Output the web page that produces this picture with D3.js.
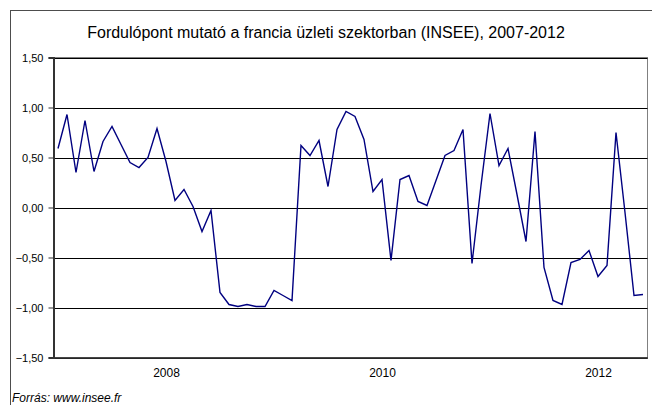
<!DOCTYPE html>
<html>
<head>
<meta charset="utf-8">
<script src="https://cdn.jsdelivr.net/npm/d3@7"></script>
<style>
  html, body { margin: 0; padding: 0; background: #fff; }
  svg { display: block; font-family: "Liberation Sans", Arial, sans-serif; }
</style>
</head>
<body>
<svg id="chart" width="652" height="405"></svg>
<script>
const title = "Fordulópont mutató a francia üzleti szektorban (INSEE), 2007-2012";
const source = "Forrás: www.insee.fr";

// Monthly categories, Jan 2007 – Jun 2012
const months = d3.timeMonth.range(new Date(2007, 0, 1), new Date(2012, 6, 1)).map(d3.timeFormat("%Y-%m"));

const values = [
  0.59, 0.93, 0.35, 0.87, 0.36, 0.66, 0.81, 0.63, 0.45, 0.40, 0.50, 0.79,
  0.46, 0.07, 0.18, 0.01, -0.24, -0.03, -0.85, -0.97, -0.99, -0.97, -0.99, -0.99,
  -0.83, -0.88, -0.93, 0.62, 0.52, 0.67, 0.21, 0.78, 0.96, 0.91, 0.68, 0.16,
  0.28, -0.53, 0.28, 0.32, 0.06, 0.02, 0.27, 0.52, 0.57, 0.78, -0.56, 0.22,
  0.94, 0.42, 0.59, 0.13, -0.34, 0.76, -0.60, -0.93, -0.97, -0.55, -0.52, -0.43,
  -0.69, -0.58, 0.75, -0.05, -0.88, -0.87
];

const yTicks = [-1.5, -1.0, -0.5, 0.0, 0.5, 1.0, 1.5];
const xTickLabels = ["2008", "2010", "2012"];
const xTickMonths = ["2008-01", "2010-01", "2012-01"];

const svg = d3.select("#chart");
const plot = { left: 53.5, right: 647.5, top: 57.5, bottom: 357.5 };

// outer frame
svg.append("rect")
  .attr("x", 10.5).attr("y", 10.5)
  .attr("width", 660).attr("height", 420)
  .attr("fill", "none").attr("stroke", "#4d4d4d").attr("stroke-width", 1);

const x = d3.scalePoint().domain(months).range([plot.left, plot.right]).padding(0.5);
const y = d3.scaleLinear().domain([-1.5, 1.5]).range([plot.bottom, plot.top]);

// plot area border
svg.append("rect")
  .attr("x", plot.left).attr("y", plot.top)
  .attr("width", plot.right - plot.left).attr("height", plot.bottom - plot.top)
  .attr("fill", "none").attr("stroke", "#808080").attr("stroke-width", 1);

// gridlines
svg.append("g").selectAll("line").data(yTicks).join("line")
  .attr("x1", plot.left).attr("x2", plot.right)
  .attr("y1", d => Math.round(y(d)) + 0.5).attr("y2", d => Math.round(y(d)) + 0.5)
  .attr("stroke", "#000").attr("stroke-width", 1);

// y axis
const fmt = d => d3.format(".2f")(d).replace(".", ",");
const yAxis = d3.axisLeft(y).tickValues(yTicks).tickFormat(fmt).tickSize(5).tickPadding(5);
const gy = svg.append("g").attr("transform", `translate(${plot.left},0)`).call(yAxis);
gy.select(".domain").attr("stroke", "#333").attr("stroke-width", 2);
gy.selectAll(".tick line").attr("stroke", "#333");
gy.selectAll(".tick text").attr("font-size", 11).attr("fill", "#000")
  .attr("font-family", "'Liberation Sans', Arial, sans-serif");

// x axis
const xAxis = d3.axisBottom(x).tickValues(xTickMonths)
  .tickFormat(d => xTickLabels[xTickMonths.indexOf(d)]).tickSize(0).tickPadding(11);
const gx = svg.append("g").attr("transform", `translate(0,${plot.bottom})`).call(xAxis);
gx.select(".domain").attr("stroke", "#333").attr("stroke-width", 1.5);
gx.selectAll(".tick text").attr("font-size", 12).attr("fill", "#000")
  .attr("font-family", "'Liberation Sans', Arial, sans-serif");

// line
const line = d3.line().x((d, i) => x(months[i])).y(d => y(d));
svg.append("path").datum(values)
  .attr("d", line)
  .attr("fill", "none").attr("stroke", "#000080").attr("stroke-width", 1.4)
  .attr("stroke-linejoin", "miter");

// title
svg.append("text")
  .attr("x", 326).attr("y", 37.5)
  .attr("text-anchor", "middle")
  .attr("font-size", 16).attr("fill", "#000")
  .text(title);

// source
svg.append("text")
  .attr("x", 12).attr("y", 402)
  .attr("font-size", 12).attr("font-style", "italic").attr("fill", "#000")
  .text(source);
</script>
</body>
</html>
